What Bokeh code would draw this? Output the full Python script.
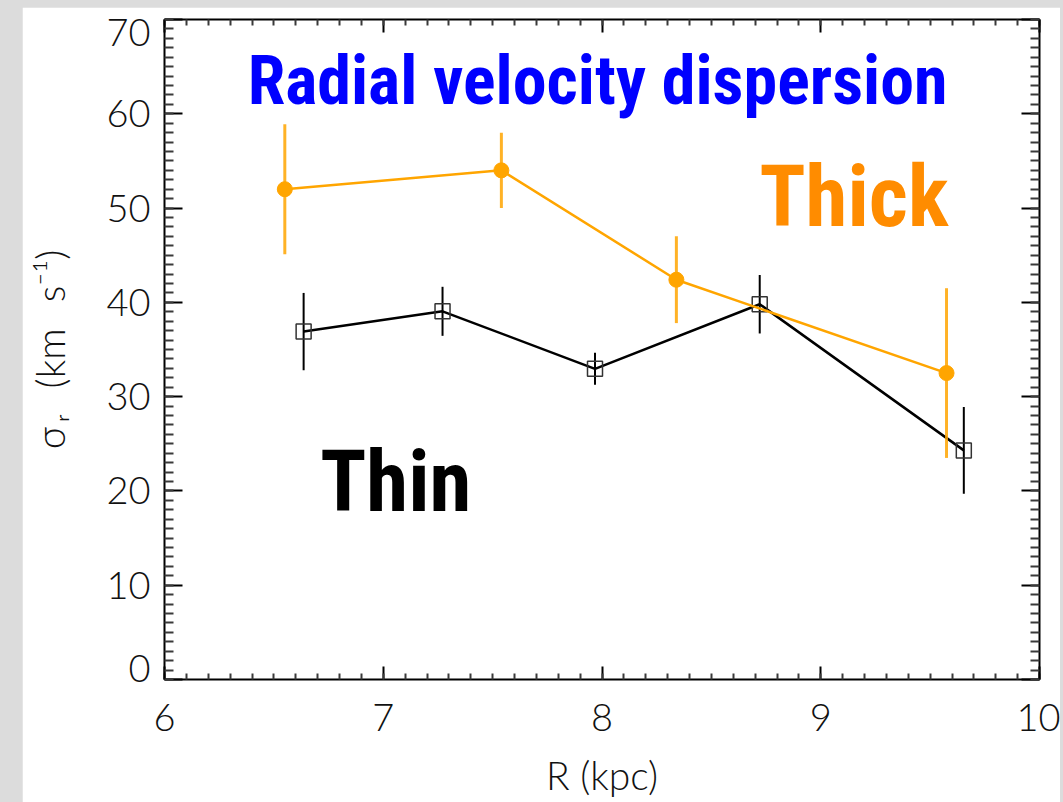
from bokeh.plotting import figure
from bokeh.models import (LinearAxis, SingleIntervalTicker, FixedTicker, Label, Range1d,
                          ColumnDataSource, CustomJSTickFormatter)
from bokeh.layouts import column
from bokeh.embed import file_html
from bokeh.resources import INLINE

# Galactocentric radius (kpc) and radial velocity dispersion (km/s)
R_thick = [6.55, 7.54, 8.34, 9.575]
sig_thick = [52.0, 54.0, 42.4, 32.5]
err_thick = [6.9, 4.0, 4.6, 9.0]

R_thin = [6.636, 7.271, 7.968, 8.721, 9.654]
sig_thin = [36.9, 39.05, 32.95, 39.8, 24.3]
err_thin = [4.1, 2.6, 1.7, 3.1, 4.6]

x_ticks = [6, 7, 8, 9, 10]
y_ticks = [0, 10, 20, 30, 40, 50, 60, 70]

TICK_FONT = "Lato Light, Liberation Sans"
LABEL_FONT = "Roboto Condensed, DejaVu Sans Condensed, Liberation Sans"
TICK_COLOR = "#111111"


def with_errors(xs, ys, es):
    return ColumnDataSource(dict(
        x=xs, y=ys,
        lo=[y - e for y, e in zip(ys, es)],
        hi=[y + e for y, e in zip(ys, es)],
    ))


src_thick = with_errors(R_thick, sig_thick, err_thick)
src_thin = with_errors(R_thin, sig_thin, err_thin)

p = figure(
    width=1038, height=795,
    x_range=Range1d(x_ticks[0], x_ticks[-1]),
    y_range=Range1d(y_ticks[0], y_ticks[-1]),
    output_backend="svg", toolbar_location=None,
    min_border_left=142, min_border_top=12,
    min_border_right=21, min_border_bottom=123,
    background_fill_color="white", border_fill_color="white",
)
p.margin = (7, 3, 0, 22)
p.grid.visible = False
p.outline_line_color = None

xtick = SingleIntervalTicker(interval=1, num_minor_ticks=10)
ytick = SingleIntervalTicker(interval=10, num_minor_ticks=10)


def style_axis(ax, major_in, minor_in):
    ax.axis_line_color = "black"
    ax.axis_line_width = 2
    ax.major_tick_in = major_in
    ax.major_tick_out = 0
    ax.minor_tick_in = minor_in
    ax.minor_tick_out = 0
    ax.major_tick_line_color = "black"
    ax.major_tick_line_width = 2
    ax.minor_tick_line_color = "#3a3a3a"
    ax.minor_tick_line_width = 2
    ax.major_label_text_font = TICK_FONT
    ax.major_label_text_font_size = "38px"
    ax.major_label_text_color = TICK_COLOR
    ax.axis_label_text_font = TICK_FONT
    ax.axis_label_text_font_size = "39px"
    ax.axis_label_text_font_style = "normal"
    ax.axis_label_text_color = TICK_COLOR


def ticks_only(ax, ticks):
    ax.major_label_overrides = {t: "" for t in ticks}
    ax.major_label_standoff = 0


# bottom axis: ticks and labels
bx = p.xaxis[0]
bx.ticker = xtick
style_axis(bx, 13, 6)
bx.major_label_standoff = 24
bx.axis_label = "R (kpc)"
bx.axis_label_standoff = 18

# left: the inner axis draws the ticks, an outer one carries the labels,
# with the end labels nudged inside the frame corners
ly = p.yaxis[0]
ly.ticker = ytick
style_axis(ly, 18, 9)
ticks_only(ly, y_ticks)

ends_in = {y_ticks[0]: 11 / 9.43, y_ticks[-1]: -13 / 9.43}
label_pos = [t + ends_in.get(t, 0) for t in y_ticks]
ly_lab = LinearAxis(ticker=FixedTicker(ticks=label_pos, minor_ticks=[]),
                    formatter=CustomJSTickFormatter(code="return (Math.round(tick / 10) * 10).toString()"))
style_axis(ly_lab, 0, 0)
ly_lab.axis_line_color = None
ly_lab.major_tick_line_color = None
ly_lab.minor_tick_line_color = None
ly_lab.major_label_standoff = 14
ly_lab.axis_label = "σ\u2009ᵣ\u00a0\u00a0\u2009(km\u00a0\u00a0\u2009s⁻¹)"
ly_lab.axis_label_standoff = 30
p.add_layout(ly_lab, "left")

# top and right mirror the ticks
tx = LinearAxis(ticker=xtick)
style_axis(tx, 13, 6)
ticks_only(tx, x_ticks)
p.add_layout(tx, "above")

ry = LinearAxis(ticker=ytick)
style_axis(ry, 18, 9)
ticks_only(ry, y_ticks)
p.add_layout(ry, "right")

# thin disc: open squares joined by a black line
p.line("x", "y", source=src_thin, line_color="black", line_width=2.5)
p.segment(x0="x", y0="lo", x1="x", y1="hi", source=src_thin,
          line_color="black", line_width=2)
p.scatter("x", "y", source=src_thin, marker="square", size=15,
          fill_color=None, line_color="#333333", line_width=1.5)

# thick disc: filled orange circles
p.line("x", "y", source=src_thick, line_color="#FFA500", line_width=2.5)
p.segment(x0="x", y0="lo", x1="x", y1="hi", source=src_thick,
          line_color="#FFA500", line_alpha=0.85, line_width=3)
p.scatter("x", "y", source=src_thick, marker="circle", size=15,
          fill_color="#FFA500", line_color="#FFA500")

p.add_layout(Label(x=6.38, y=63.5, text="Radial velocity dispersion",
                   text_font=LABEL_FONT, text_font_style="bold",
                   text_font_size="68px", text_color="#0000FF",
                   text_baseline="alphabetic", text_align="left"))
p.add_layout(Label(x=8.72, y=51.2, text="Thick",
                   text_font=LABEL_FONT, text_font_style="bold",
                   text_font_size="85px", text_color="#FF8C00",
                   text_baseline="alphabetic", text_align="left"))
p.add_layout(Label(x=6.712, y=20.9, text="Thin",
                   text_font=LABEL_FONT, text_font_style="bold",
                   text_font_size="85px", text_color="black",
                   text_baseline="alphabetic", text_align="left"))

page = column(p, width=1063, height=802,
              styles={"background-color": "#dcdcdc"})

open("out.html", "w").write(file_html(page, INLINE))
